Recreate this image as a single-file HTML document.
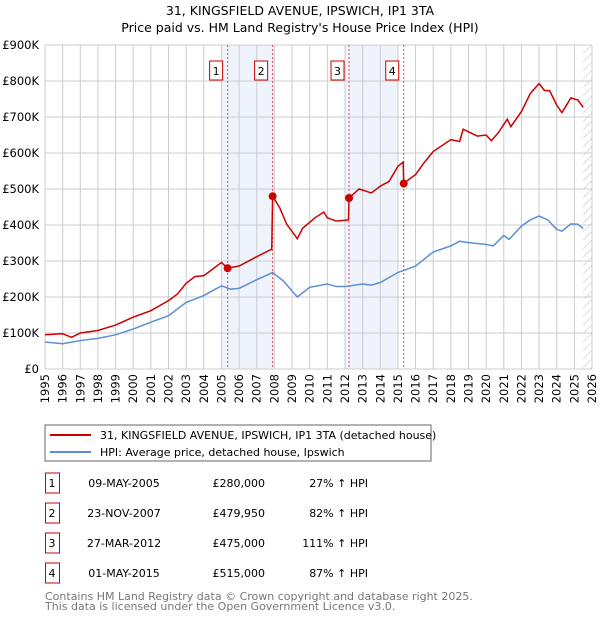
<!DOCTYPE html>
<html><head><meta charset="utf-8"><style>
body{margin:0;background:#fff;font-family:"DejaVu Sans","Liberation Sans",sans-serif;}
svg text{font-family:"DejaVu Sans","Liberation Sans",sans-serif;}
</style></head><body>
<svg id="chart" width="600" height="620" xmlns="http://www.w3.org/2000/svg">
<defs><pattern id="hatch" width="6" height="6" patternUnits="userSpaceOnUse" patternTransform="rotate(45)"><line x1="0" y1="0" x2="0" y2="6" stroke="#bbb" stroke-width="1"/></pattern></defs>
<text x="300" y="15" text-anchor="middle" font-size="12.5">31, KINGSFIELD AVENUE, IPSWICH, IP1 3TA</text>
<text x="300" y="32" text-anchor="middle" font-size="12.5">Price paid vs. HM Land Registry's House Price Index (HPI)</text>
<g id="plot"></g>
<rect x="45" y="425" width="386" height="36" fill="#fff" stroke="#666"/>
<line x1="50" y1="435" x2="91" y2="435" stroke="#cc0000" stroke-width="2"/>
<text x="100" y="439" font-size="11">31, KINGSFIELD AVENUE, IPSWICH, IP1 3TA (detached house)</text>
<line x1="50" y1="452" x2="91" y2="452" stroke="#5b8fd0" stroke-width="2"/>
<text x="100" y="456" font-size="11">HPI: Average price, detached house, Ipswich</text>
<g id="table" font-size="11"></g>
<text x="45" y="600" font-size="11" fill="#777">Contains HM Land Registry data © Crown copyright and database right 2025.</text>
<text x="45" y="610" font-size="11" fill="#777">This data is licensed under the Open Government Licence v3.0.</text>
</svg>
<script>
const yearTicks=[1995,1996,1997,1998,1999,2000,2001,2002,2003,2004,2005,2006,2007,2008,2009,2010,2011,2012,2013,2014,2015,2016,2017,2018,2019,2020,2021,2022,2023,2024,2025,2026];
const valueTicks=[0,100,200,300,400,500,600,700,800,900];
const valueLabels=["£0","£100K","£200K","£300K","£400K","£500K","£600K","£700K","£800K","£900K"];
const hpiYears=[1995,1996,1997,1998,1999,2000,2001,2002,2003,2004,2005,2005.5,2006,2007,2007.9,2008.5,2009.3,2010,2011,2011.5,2012,2013,2013.5,2014,2015,2016,2017,2018,2018.5,2019,2020,2020.4,2021,2021.3,2022,2022.5,2023,2023.5,2024,2024.3,2024.8,2025.2,2025.5];
const hpiValues=[75,70,79,85,95,111,130,148,185,204,231,222,224,248,268,245,200,227,236,229,229,236,233,240,268,286,325,342,355,351,346,342,371,360,397,414,425,414,388,383,403,402,390];
const priceYears=[1995,1996,1996.5,1997,1998,1999,2000,2001,2002,2002.5,2003,2003.5,2004,2005,2005.35,2006,2007,2007.85,2007.9,2008.3,2008.7,2009.3,2009.6,2010.3,2010.8,2011,2011.5,2012.2,2012.23,2012.8,2013.5,2014,2014.5,2015,2015.3,2015.33,2016,2016.5,2017,2018,2018.5,2018.7,2019.5,2020,2020.3,2020.7,2021.2,2021.4,2022,2022.5,2023,2023.3,2023.6,2024,2024.3,2024.8,2025.2,2025.5];
const priceValues=[95,98,88,100,107,122,144,162,190,208,238,257,259,296,280,286,312,333,480,448,402,362,391,420,436,420,411,414,475,500,489,508,521,563,575,516,540,574,604,637,632,666,647,650,634,657,694,673,715,765,793,774,773,733,712,753,747,727];
const saleLabels=["1","2","3","4"];
const saleYears=[2005.35,2007.9,2012.23,2015.33];
const saleValues=[280,479.95,475,515];
const saleDates=["09-MAY-2005","23-NOV-2007","27-MAR-2012","01-MAY-2015"];
const salePrices=["£280,000","£479,950","£475,000","£515,000"];
const saleHpi=["27% ↑ HPI","82% ↑ HPI","111% ↑ HPI","87% ↑ HPI"];
const shadeStarts=[2005,2012];
const shadeEnds=[2007.9,2015];

const X0=45,X1=592,Y0=369,Y1=45;
const xs=y=>X0+(y-1995)/(2026-1995)*(X1-X0);
const ys=v=>Y0-v/900*(Y0-Y1);
const NS="http://www.w3.org/2000/svg";
const plot=document.getElementById('plot');
function mk(tag,attrs,parent){const e=document.createElementNS(NS,tag);for(const k in attrs)e.setAttribute(k,attrs[k]);(parent||plot).appendChild(e);return e;}

shadeStarts.forEach((s,i)=>{const r=mk('rect',{x:xs(s),y:Y1,width:xs(shadeEnds[i])-xs(s),height:Y0-Y1,fill:'#eef3fc'});

});
const h=mk('rect',{x:xs(2025.5),y:Y1,width:X1-xs(2025.5),height:Y0-Y1,fill:'url(#hatch)'});



yearTicks.forEach(y=>{const l=mk('line',{x1:xs(y),x2:xs(y),y1:Y1,y2:Y0,stroke:'#ccc'});


const tx=xs(y)+4,ty=Y0+5;
const t=mk('text',{x:tx,y:ty,'text-anchor':'end','font-size':'11.5',transform:'rotate(-90 '+tx+' '+ty+')'});t.textContent=y;

});
valueTicks.forEach((v,i)=>{const l=mk('line',{x1:X0,x2:X1,y1:ys(v),y2:ys(v),stroke:'#ccc'});


const t=mk('text',{x:X0-6,y:ys(v)+4,'text-anchor':'end','font-size':'11.5'});t.textContent=valueLabels[i];

});

saleYears.forEach((y,i)=>{const l=mk('line',{x1:xs(y),x2:xs(y),y1:Y1,y2:Y0,stroke:'#ee4444','stroke-dasharray':'2,2'});


const b=mk('rect',{x:xs(y)-18,y:61,width:13,height:19,fill:'#fff',stroke:'#cc0000'});


const t=mk('text',{x:xs(y)-11.5,y:75,'text-anchor':'middle','font-size':'11'});t.textContent=saleLabels[i];

});

const hp=mk('polyline',{points:hpiYears.map((y,i)=>xs(y)+','+ys(hpiValues[i])).join(' '),fill:'none',stroke:'#5b8fd0','stroke-width':1.5});


const pp=mk('polyline',{points:priceYears.map((y,i)=>xs(y)+','+ys(priceValues[i])).join(' '),fill:'none',stroke:'#cc0000','stroke-width':1.5});


saleYears.forEach((y,i)=>{const c=mk('circle',{cx:xs(y),cy:ys(saleValues[i]),r:4,fill:'#cc0000'});

});

const tb=document.getElementById('table');
saleLabels.forEach((s,i)=>{const y=483+i*30;
const b=mk('rect',{x:45.5,y:y-10,width:14,height:20,fill:'#fff',stroke:'#cc0000'},tb);


const cells=[[52,s,'middle'],[124,saleDates[i],'middle'],[265,salePrices[i],'end'],[368,saleHpi[i],'end']];
cells.forEach((c,j)=>{const t=mk('text',{x:c[0],y:y+4,'text-anchor':c[2],'font-size':'11'},tb);t.textContent=c[1];

});});
</script>
</body></html>
